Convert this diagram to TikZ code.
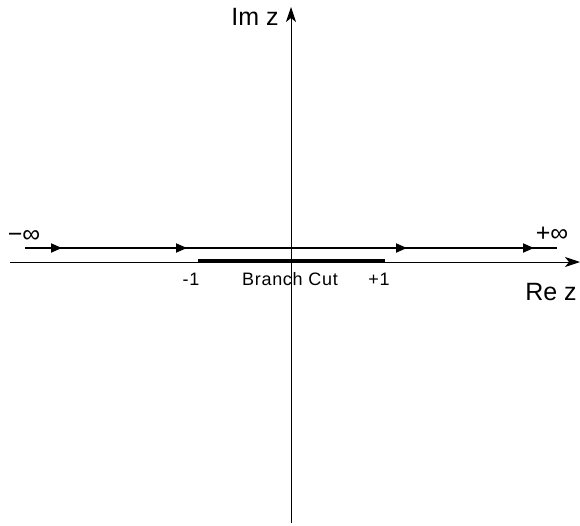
\documentclass[tikz,border=0pt]{standalone}
\usepackage{fontspec}
\setmainfont{Liberation Sans}
\usetikzlibrary{arrows.meta,decorations.markings}
\begin{document}
\begin{tikzpicture}[x=1pt,y=-1pt,
  axis/.style={line width=0.9pt,-{Stealth[length=15pt,width=10pt,inset=4pt]}},
  contour/.style={line width=1.8pt,
    decoration={markings,
      mark=at position 37pt with {\arrow{Triangle[length=11pt,width=9pt]}},
      mark=at position 162pt with {\arrow{Triangle[length=11pt,width=9pt]}},
      mark=at position 382pt with {\arrow{Triangle[length=11pt,width=9pt]}},
      mark=at position 509pt with {\arrow{Triangle[length=11pt,width=9pt]}}},
    postaction={decorate}},
  cut/.style={line width=3.4pt},
  big/.style={anchor=base,inner sep=0pt,font=\fontsize{25}{28}\selectfont},
  inf/.style={anchor=base,inner sep=0pt,font=\fontsize{25}{28}\selectfont},
  small/.style={anchor=base,inner sep=0pt,font=\fontsize{18}{20}\selectfont\addfontfeatures{LetterSpace=4}}]
\useasboundingbox (0,0) rectangle (580,525);
\coordinate (xl) at (10,262);
\coordinate (xr) at (580,262);
\coordinate (yb) at (291,523);
\coordinate (yt) at (291,7);
\coordinate (cl) at (25,248);
\coordinate (cr) at (557,248);
\coordinate (bl) at (198,261);
\coordinate (br) at (385,261);
\draw[axis] (xl) -- (xr);
\draw[axis] (yb) -- (yt);
\draw[contour] (cl) -- (cr);
\draw[cut] (bl) -- (br);
\node[big] (im) at (255,25) {Im z};
\node[big] (re) at (551,300) {Re z};
\node[inf] (mi) at (24,242) {−∞};
\node[inf] (pi) at (552,241) {+∞};
\node[small] (m1) at (191,285) {-1};
\node[small] (p1) at (379,285) {+1};
\node[small] (bc) at (290,285) {Branch Cut};
\end{tikzpicture}
\end{document}
